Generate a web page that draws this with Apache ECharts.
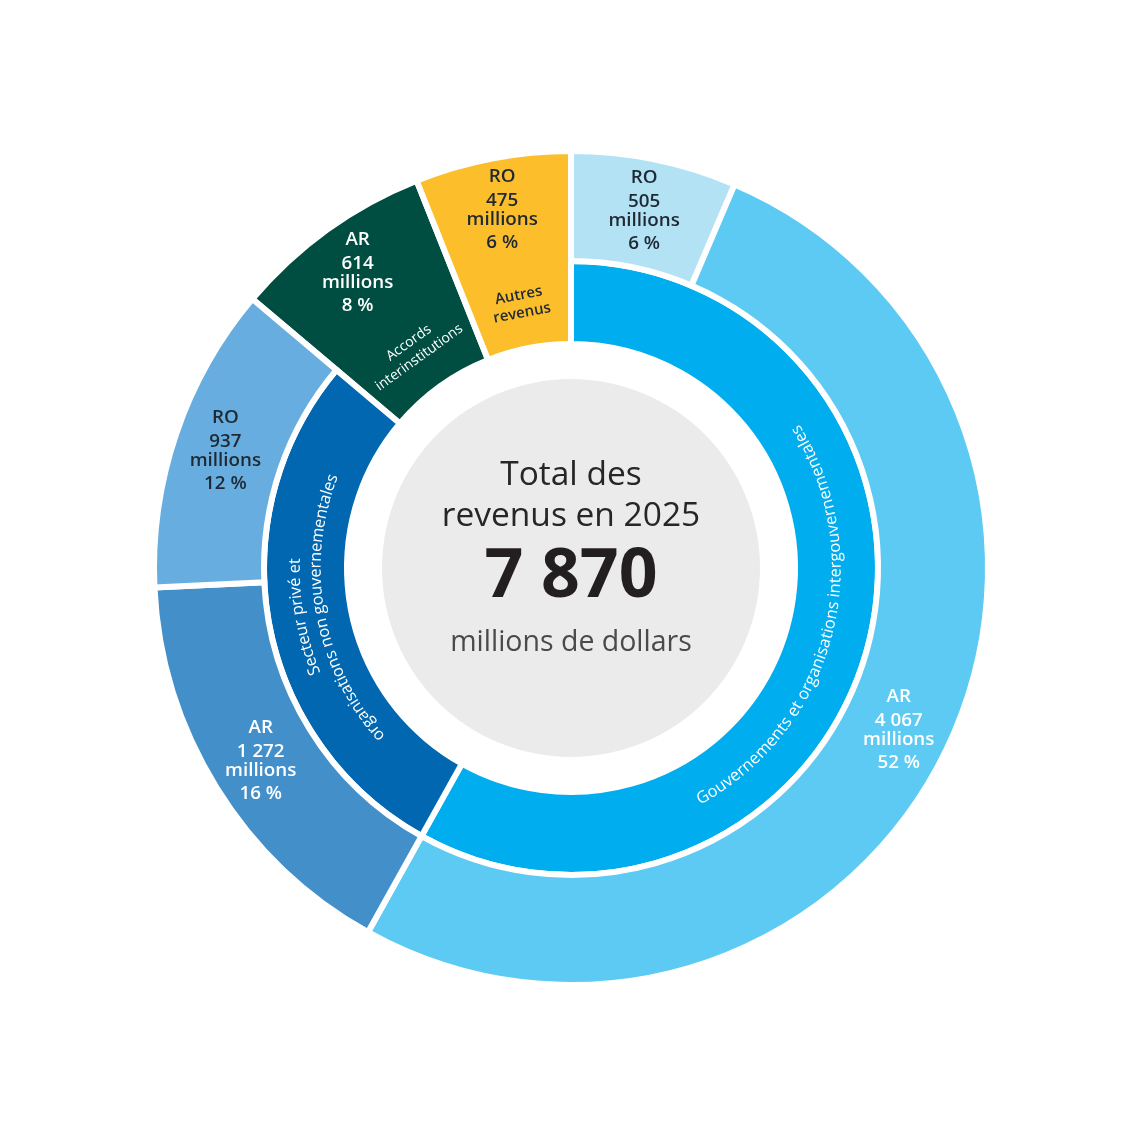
<!DOCTYPE html>
<html>
<head>
<meta charset="utf-8">
<script src="https://cdn.jsdelivr.net/npm/echarts@6/dist/echarts.min.js"></script>
<style>html,body{margin:0;padding:0;background:#fff}#c{width:1140px;height:1140px}</style>
</head>
<body>
<div id="c"></div>
<script>
// ---- data ----
const innerCategories = ['Gouvernements et organisations intergouvernementales', 'Secteur privé et organisations non gouvernementales', 'Accords interinstitutions', 'Autres revenus'];
const innerLabelLines = [['Gouvernements et organisations intergouvernementales'], ['Secteur privé et', 'organisations non gouvernementales'], ['Accords', 'interinstitutions'], ['Autres', 'revenus']];
const outerTypes = ['RO', 'AR', 'AR', 'RO', 'AR', 'RO'];
const outerValues = [505, 4067, 1272, 937, 614, 475];
const outerParent = [0, 0, 1, 1, 2, 3];
const unitWord = 'millions';
const centerTitle = ['Total des', 'revenus en 2025'];
const centerUnit = 'millions de dollars';

// ---- styles ----
const innerColors = ['#00ADEE', '#0067B0', '#004E42', '#FDBE2C'];
const outerColors = ['#B3E2F5', '#5DCAF3', '#438FCA', '#67ADDF', '#004E42', '#FDBE2C'];
const outerTextColors = ['#1f2933', '#ffffff', '#ffffff', '#1f2933', '#ffffff', '#1f2933'];
const innerTextColors = ['#ffffff', '#ffffff', '#ffffff', '#1f2933'];
const FONT = '"Open Sans", "Noto Sans", sans-serif';
const CX = 571, CY = 568;
const BW = 6;
const TRANSP = 'rgba(0,0,0,0)';

const total = outerValues.reduce((a, b) => a + b, 0);
const innerValues = innerCategories.map((_, k) => outerValues.reduce((s, v, i) => s + (outerParent[i] === k ? v : 0), 0));
const childCount = innerCategories.map((_, k) => outerParent.filter(p => p === k).length);
const fullSpan = childCount.map(c => c === 1);
const fmtNum = v => String(v).replace(/\B(?=(\d{3})+(?!\d))/g, ' ');

const common = {
  type: 'pie', center: [CX, CY], startAngle: 90, clockwise: true, silent: true,
  avoidLabelOverlap: false, labelLine: { show: false }, emphasis: { disabled: true },
  animation: false
};

const chart = echarts.init(document.getElementById('c'), null, { renderer: 'canvas' });

const fullData = innerValues.map((v, k) => ({
  value: v, name: innerCategories[k],
  itemStyle: fullSpan[k] ? { color: innerColors[k], borderColor: '#fff', borderWidth: BW } : { color: TRANSP, borderWidth: 0 },
  label: { show: false }
}));

const innerData = innerValues.map((v, k) => {
  if (fullSpan[k]) {
    const col = innerTextColors[k];
    const bold = k === 3;
    return {
      value: v, name: innerCategories[k],
      itemStyle: { color: TRANSP, borderWidth: 0 },
      label: {
        show: true, position: 'inside', rotate: 'tangential',
        formatter: innerLabelLines[k].map(l => '{t|' + l + '}').join('\n'),
        rich: { t: { color: col, fontFamily: FONT, fontSize: bold ? 15 : 14, fontWeight: bold ? 600 : 400, lineHeight: 18, align: 'center' } }
      }
    };
  }
  return { value: v, name: innerCategories[k], itemStyle: { color: innerColors[k], borderColor: '#fff', borderWidth: BW }, label: { show: false } };
});

const outerData = outerValues.map((v, i) => {
  const pct = Math.round(v / total * 100);
  const col = outerTextColors[i];
  const base = { color: col, fontFamily: FONT, fontSize: 18.8, fontWeight: 600, align: 'center' };
  return {
    value: v, name: outerTypes[i] + ' ' + v,
    itemStyle: fullSpan[outerParent[i]] ? { color: TRANSP, borderWidth: 0 } : { color: outerColors[i], borderColor: '#fff', borderWidth: BW },
    label: {
      show: true, position: 'inside',
      formatter: '{h|' + outerTypes[i] + '}\n{v|' + fmtNum(v) + '}\n{v|' + unitWord + '}\n{p|' + pct + ' %}',
      rich: {
        h: Object.assign({}, base, { lineHeight: 29 }),
        v: Object.assign({}, base, { lineHeight: 19 }),
        p: Object.assign({}, base, { lineHeight: 27 })
      }
    }
  };
});

chart.setOption({
  backgroundColor: '#ffffff',
  series: [
    Object.assign({}, common, { name: 'centre', radius: [0, 189], z: 1, data: [{ value: total, itemStyle: { color: '#EBEBEC', borderWidth: 0 }, label: { show: false } }] }),
    Object.assign({}, common, { name: 'full', radius: [224, 417], z: 2, data: fullData }),
    Object.assign({}, common, { name: 'inner', radius: [224, 307], z: 3, data: innerData }),
    Object.assign({}, common, { name: 'outer', radius: [307, 417], z: 3, data: outerData })
  ]
});

// ---- curved labels along the inner ring ----
const mctx = document.createElement('canvas').getContext('2d');
function arcText(str, cx, cy, R, mid, dir, size, weight, fill) {
  const font = weight + ' ' + size + 'px ' + FONT;
  mctx.font = font;
  const chars = Array.from(str);
  const totalW = mctx.measureText(str).width;
  const els = [];
  for (let i = 0; i < chars.length; i++) {
    if (chars[i] === ' ') continue;
    const w0 = mctx.measureText(chars.slice(0, i).join('')).width;
    const w1 = mctx.measureText(chars.slice(0, i + 1).join('')).width;
    const sc = (w0 + w1) / 2 - totalW / 2;
    const phi = mid + dir * sc / R;
    const x = cx + R * Math.cos(phi), y = cy + R * Math.sin(phi);
    const dx = -dir * Math.sin(phi), dy = dir * Math.cos(phi);
    els.push({
      type: 'text', x: x, y: y, rotation: Math.atan2(-dy, dx), silent: true, z: 10,
      style: { text: chars[i], fontFamily: FONT, fontSize: size, fontWeight: weight, fill: fill, align: 'center', verticalAlign: 'middle' }
    });
  }
  return els;
}

function midAngle(k) {
  let layout = null;
  try { layout = chart.getModel().getSeriesByIndex(2).getData().getItemLayout(k); } catch (e) {}
  if (layout && layout.startAngle != null) return (layout.startAngle + layout.endAngle) / 2;
  let cum = 0; for (let j = 0; j < k; j++) cum += innerValues[j];
  return -Math.PI / 2 + 2 * Math.PI * (cum + innerValues[k] / 2) / total;
}

let graphics = [];
// Gouvernements: reads counter-clockwise, letter tops toward centre
graphics = graphics.concat(arcText(innerLabelLines[0][0], CX, CY, 265, midAngle(0), -1, 16.4, 400, innerTextColors[0]));
// Secteur privé: reads clockwise, two lines
graphics = graphics.concat(arcText(innerLabelLines[1][0], CX, CY, 276, midAngle(1), 1, 16.3, 400, innerTextColors[1]));
graphics = graphics.concat(arcText(innerLabelLines[1][1], CX, CY, 255, midAngle(1), 1, 16.3, 400, innerTextColors[1]));

// ---- centre text ----
const centreTexts = [
  { t: centerTitle[0], dy: -93, size: 33.5, weight: 400, fill: '#262626' },
  { t: centerTitle[1], dy: -52, size: 33.5, weight: 400, fill: '#262626' },
  { t: fmtNum(total), dy: 10, size: 68, weight: 700, fill: '#231f20' },
  { t: centerUnit, dy: 75, size: 28.5, weight: 400, fill: '#4a4a4a' }
];
centreTexts.forEach(c => graphics.push({
  type: 'text', x: CX, y: CY + c.dy, silent: true, z: 10,
  style: { text: c.t, fontFamily: FONT, fontSize: c.size, fontWeight: c.weight, fill: c.fill, align: 'center', verticalAlign: 'middle' }
}));

chart.setOption({ graphic: { elements: graphics } });
</script>
</body>
</html>
